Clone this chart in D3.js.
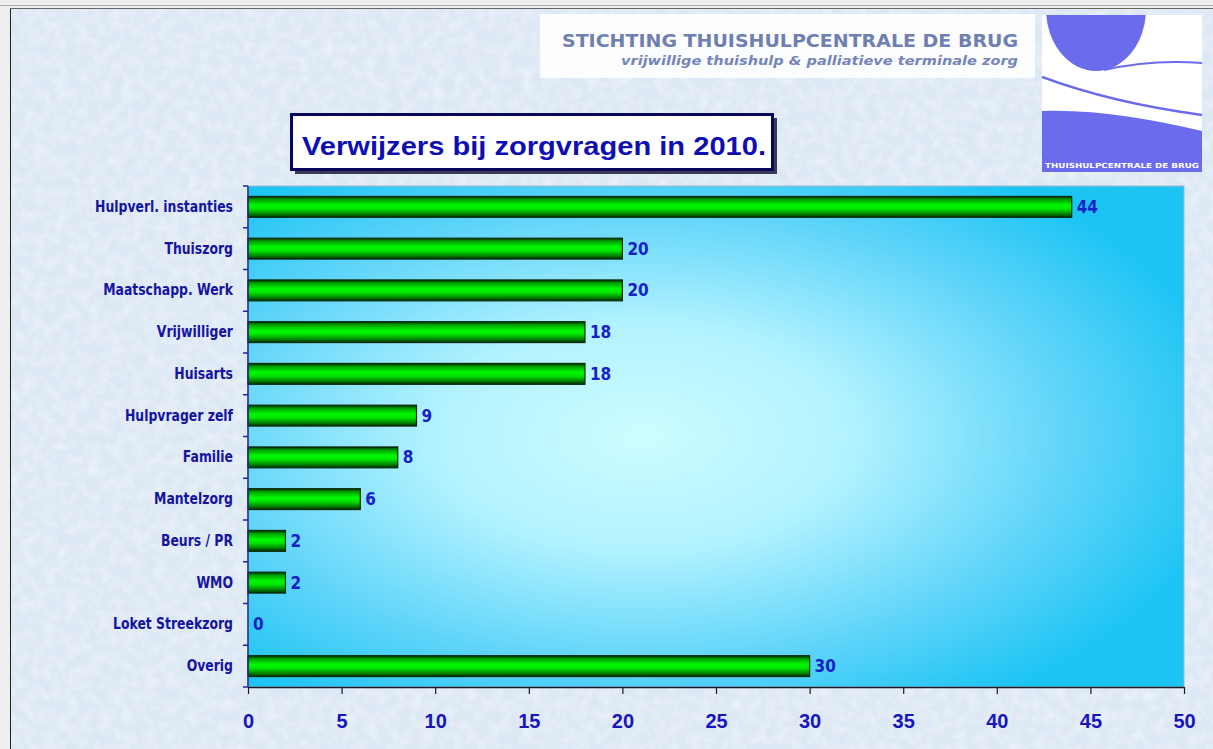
<html>
<head>
  <meta charset="utf-8">
  <title>Verwijzers bij zorgvragen in 2010</title>
  <script src="https://d3js.org/d3.v7.min.js"></script>
  <style>
    body { margin: 0; background: #eeeeee; }
  </style>
</head>
<body>
<script>

var categories = ["Hulpverl. instanties", "Thuiszorg", "Maatschapp. Werk", "Vrijwilliger", "Huisarts",
                  "Hulpvrager zelf", "Familie", "Mantelzorg", "Beurs / PR", "WMO", "Loket Streekzorg", "Overig"];
var values = [44, 20, 20, 18, 18, 9, 8, 6, 2, 2, 0, 30];
var xTicks = [0, 5, 10, 15, 20, 25, 30, 35, 40, 45, 50];
var title = "Verwijzers bij zorgvragen in 2010.";
var orgName = "STICHTING THUISHULPCENTRALE DE BRUG";
var orgSub = "vrijwillige thuishulp & palliatieve terminale zorg";

var width = 1213, height = 749;
var narrow = "'Liberation Sans Narrow', 'Arial Narrow', 'DejaVu Sans Condensed', sans-serif";

var svg = d3.select("body").append("svg")
  .attr("width", width)
  .attr("height", height);

var defs = svg.append("defs");

// paper texture
var tex = defs.append("filter").attr("id", "tex").attr("x", 0).attr("y", 0).attr("width", 1).attr("height", 1);
tex.append("feTurbulence").attr("type", "fractalNoise").attr("baseFrequency", 0.09).attr("numOctaves", 3).attr("seed", 7);
tex.append("feColorMatrix").attr("type", "matrix")
  .attr("values", "0 0 0 0 1  0 0 0 0 1  0 0 0 0 1  1.4 0 0 0 -0.5");

var bg = defs.append("radialGradient").attr("id", "plotbg")
  .attr("cx", 0.42).attr("cy", 0.5).attr("r", 0.64);
bg.append("stop").attr("offset", "0").attr("stop-color", "#cdfdff");
bg.append("stop").attr("offset", "0.35").attr("stop-color", "#b2f2ff");
bg.append("stop").attr("offset", "0.72").attr("stop-color", "#5ed4f9");
bg.append("stop").attr("offset", "1").attr("stop-color", "#1cc4f4");

var bar = defs.append("linearGradient").attr("id", "bar").attr("x1", 0).attr("y1", 0).attr("x2", 0).attr("y2", 1);
[["0", "#002a00"], ["0.15", "#00a000"], ["0.42", "#00f800"], ["0.6", "#00e600"], ["0.85", "#008000"], ["1", "#002a00"]]
  .forEach(function(s) { bar.append("stop").attr("offset", s[0]).attr("stop-color", s[1]); });

// page background + frame
svg.append("rect").attr("x", 10).attr("y", 8).attr("width", width).attr("height", height)
  .attr("fill", "#dde8f5");
svg.append("rect").attr("x", 10).attr("y", 8).attr("width", width).attr("height", height)
  .attr("filter", "url(#tex)").attr("opacity", 0.55);
svg.append("line").attr("x1", 0).attr("x2", width).attr("y1", 5.5).attr("y2", 5.5).attr("stroke", "#aaaaaa");
svg.append("line").attr("x1", 10.5).attr("x2", 10.5).attr("y1", 8).attr("y2", height).attr("stroke", "#222");
svg.append("line").attr("x1", 10).attr("x2", width).attr("y1", 8.5).attr("y2", 8.5).attr("stroke", "#666");

// header box
svg.append("rect").attr("x", 540).attr("y", 14).attr("width", 495).attr("height", 64)
  .attr("fill", "#ffffff").attr("opacity", 0.9);
svg.append("text").attr("x", 1018).attr("y", 47).attr("text-anchor", "end")
  .attr("font-family", "'DejaVu Sans', sans-serif").attr("font-weight", "bold").attr("font-size", 17)
  .attr("fill", "#6f7fb2").attr("textLength", 456).attr("lengthAdjust", "spacingAndGlyphs").text(orgName);
svg.append("text").attr("x", 1018).attr("y", 65).attr("text-anchor", "end")
  .attr("font-family", "'DejaVu Sans', sans-serif").attr("font-weight", "bold").attr("font-style", "italic").attr("font-size", 12.5)
  .attr("fill", "#7585ba").attr("textLength", 397).attr("lengthAdjust", "spacingAndGlyphs").text(orgSub);

// logo
var logo = svg.append("g").attr("transform", "translate(1042,15)");
var lw = 160, lh = 157;
defs.append("clipPath").attr("id", "logoclip").append("rect").attr("width", lw).attr("height", lh);
var lg = logo.append("g").attr("clip-path", "url(#logoclip)");
lg.append("rect").attr("width", lw).attr("height", lh).attr("fill", "#6b6bee");
lg.append("path").attr("d", "M0,0 H" + lw + " V116 C110,104 50,94 0,96 Z").attr("fill", "#ffffff");
lg.append("ellipse").attr("cx", 54).attr("cy", -6).attr("rx", 50).attr("ry", 62).attr("fill", "#6b6bee");
lg.append("path").attr("d", "M62,55 Q110,44 160,48").attr("fill", "none").attr("stroke", "#6b6bee").attr("stroke-width", 2);
lg.append("path").attr("d", "M0,62 Q70,88 160,100").attr("fill", "none").attr("stroke", "#6b6bee").attr("stroke-width", 2.5);
logo.append("text").attr("x", 3).attr("y", 153)
  .attr("font-family", "'DejaVu Sans', sans-serif").attr("font-weight", "bold").attr("font-size", 7)
  .attr("fill", "#ffffff").attr("textLength", 154).attr("lengthAdjust", "spacingAndGlyphs")
  .text("THUISHULPCENTRALE DE BRUG");

// title box
svg.append("rect").attr("x", 295).attr("y", 118).attr("width", 482).attr("height", 56).attr("fill", "#3a3a55");
svg.append("rect").attr("x", 291.5).attr("y", 114.5).attr("width", 481).attr("height", 55)
  .attr("fill", "#ffffff").attr("stroke", "#08085a").attr("stroke-width", 3);
svg.append("text").attr("x", 302).attr("y", 155)
  .attr("font-family", "'Liberation Sans', Arial, sans-serif").attr("font-weight", "bold").attr("font-size", 25)
  .attr("fill", "#0e0eb4").attr("textLength", 464).attr("lengthAdjust", "spacingAndGlyphs").text(title);

// plot
var plotLeft = 248, plotRight = 1184, plotTop = 186, plotBottom = 687;

var x = d3.scaleLinear().domain([0, 50]).range([plotLeft, plotRight]);
var y = d3.scaleBand().domain(categories).range([plotTop, plotBottom]).paddingInner(0.5).paddingOuter(0.25);

svg.append("rect").attr("x", plotLeft).attr("y", plotTop).attr("width", plotRight - plotLeft).attr("height", plotBottom - plotTop)
  .attr("fill", "url(#plotbg)").attr("stroke", "#9fb8d0").attr("stroke-width", 1);

svg.selectAll("rect.bar")
  .data(categories)
  .enter()
  .append("rect")
  .attr("class", "bar")
  .attr("x", x(0))
  .attr("y", function(d) { return y(d); })
  .attr("width", function(d, i) { return x(values[i]) - x(0); })
  .attr("height", y.bandwidth())
  .attr("fill", "url(#bar)")
  .attr("stroke", function(d, i) { return values[i] > 0 ? "#0b2a0b" : "none"; })
  .attr("stroke-width", 1.2);

svg.selectAll("text.val")
  .data(categories)
  .enter()
  .append("text")
  .attr("class", "val")
  .attr("x", function(d, i) { return x(values[i]) + 5; })
  .attr("y", function(d) { return y(d) + y.bandwidth() / 2 + 6; })
  .attr("font-family", narrow).attr("font-weight", "bold").attr("font-size", 17)
  .attr("fill", "#1622c8")
  .text(function(d, i) { return values[i]; });

// x axis
var xAxis = svg.append("g").attr("transform", "translate(0," + plotBottom + ")")
  .call(d3.axisBottom(x).tickValues(xTicks).tickSize(7).tickPadding(20).tickSizeOuter(0));
xAxis.select(".domain").attr("stroke", "#1a1a2a").attr("stroke-width", 1.5);
xAxis.selectAll(".tick line").attr("stroke", "#1a1a2a").attr("stroke-width", 1.2);
xAxis.selectAll(".tick text")
  .attr("font-family", "'Liberation Sans', Arial, sans-serif").attr("font-weight", "bold").attr("font-size", 20)
  .attr("fill", "#1616bc");

// y axis: ticks sit between categories
var yAxis = svg.append("g").attr("transform", "translate(" + plotLeft + ",0)");
yAxis.append("line").attr("x1", 0).attr("x2", 0).attr("y1", plotTop).attr("y2", plotBottom)
  .attr("stroke", "#1a2a9a").attr("stroke-width", 1.5);
yAxis.selectAll("line.tk")
  .data(d3.range(categories.length + 1))
  .enter()
  .append("line")
  .attr("class", "tk")
  .attr("x1", -5).attr("x2", 0)
  .attr("y1", function(i) { return plotTop + i * y.step(); })
  .attr("y2", function(i) { return plotTop + i * y.step(); })
  .attr("stroke", "#1a2a9a").attr("stroke-width", 1.5);

var catText = svg.selectAll("text.cat")
  .data(categories)
  .enter()
  .append("text")
  .attr("class", "cat")
  .attr("x", 233)
  .attr("y", function(d) { return y(d) + y.bandwidth() / 2 + 5; })
  .attr("text-anchor", "end")
  .attr("font-family", narrow).attr("font-weight", "bold").attr("font-size", 15)
  .attr("fill", "#1414a0")
  .text(function(d) { return d; });

// squeeze labels a bit, the original font is narrower
catText.each(function() {
  var w = this.getComputedTextLength();
  d3.select(this).attr("textLength", w * 0.92).attr("lengthAdjust", "spacingAndGlyphs");
});

</script>
</body>
</html>
